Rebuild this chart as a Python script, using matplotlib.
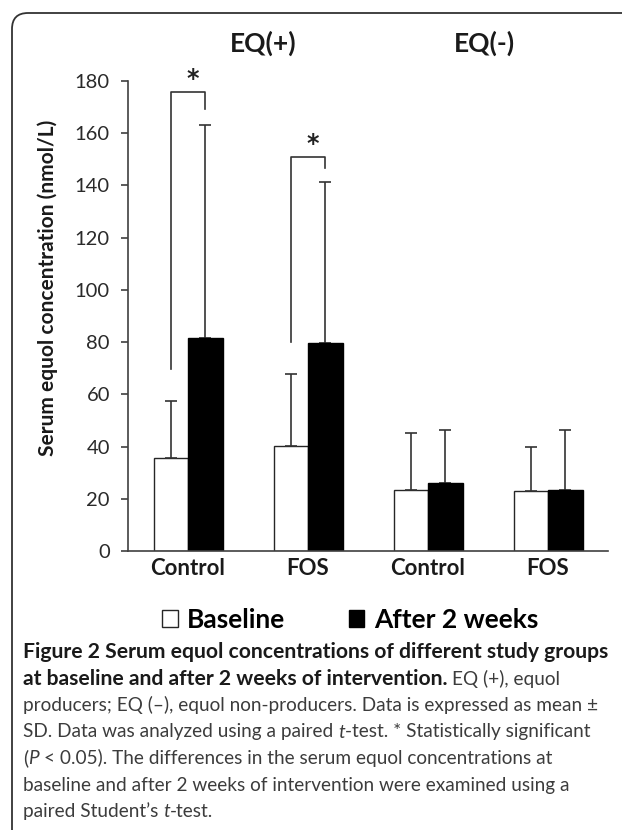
import numpy as np
import matplotlib
matplotlib.use("Agg")
import matplotlib.pyplot as plt
from matplotlib.patches import FancyBboxPatch
from matplotlib.transforms import IdentityTransform, blended_transform_factory

# ---------- Data ----------
groups = ["Control", "FOS", "Control", "FOS"]
producer_labels = ["EQ(+)", "EQ(-)"]
series = ["Baseline", "After 2 weeks"]
baseline_mean = [35.6, 40.2, 23.4, 23.0]
baseline_sd = [22.0, 27.6, 21.9, 17.0]
after_mean = [81.6, 79.8, 26.2, 23.4]
after_sd = [81.6, 61.6, 20.2, 23.0]

# significance brackets (paired t-test, P < 0.05)
sig_groups = [0, 1]
sig_top = [175.9, 151.0]
sig_left_low = [69.7, 80.0]
sig_right_low = [169.3, 146.7]

FONT = "Lato"
W, H = 622, 830

# ---------- Figure ----------
fig = plt.figure(figsize=(W / 100, H / 100), dpi=100)

# rounded frame round the figure panel (open to right / bottom)
frame = FancyBboxPatch((12, -200), 900, H - 13 + 200,
                       boxstyle="round,pad=0,rounding_size=16",
                       transform=IdentityTransform(), facecolor="none",
                       edgecolor="#333333", linewidth=1.3)
fig.add_artist(frame)

ax = fig.add_axes([128 / W, 1 - 551 / H, 480 / W, 470 / H])
x = np.arange(len(groups))
w = 0.2875

ax.bar(x - w / 2, baseline_mean, w, color="white", edgecolor="#262626",
       linewidth=1.0, label=series[0], zorder=2)
ax.bar(x + w / 2, after_mean, w, color="black", edgecolor="black",
       linewidth=1.0, label=series[1], zorder=2)

zeros = np.zeros(len(groups))
ax.errorbar(x - w / 2, baseline_mean, yerr=[zeros, baseline_sd], fmt="none",
            ecolor="#333333", elinewidth=1.2, capsize=4, capthick=1.2, zorder=3)
ax.errorbar(x + w / 2, after_mean, yerr=[zeros, after_sd], fmt="none",
            ecolor="#333333", elinewidth=1.2, capsize=4, capthick=1.2, zorder=1)

# brackets + stars
for g, top, lo_l, lo_r in zip(sig_groups, sig_top, sig_left_low, sig_right_low):
    xl, xr = g - w / 2, g + w / 2
    ax.plot([xl, xl, xr, xr], [lo_l, top, top, lo_r], color="#333333",
            lw=1.2, clip_on=False, zorder=4)
    ax.text(g + 0.04, top + 5, "*", ha="center", va="center", fontsize=17,
            fontweight="bold", family="DejaVu Sans", color="#222222",
            clip_on=False)

# EQ(+) / EQ(-) headers
hdr = blended_transform_factory(ax.transData, fig.transFigure)
for xpos, lab in zip([0.625, 2.467], producer_labels):
    ax.text(xpos, 1 - 43 / H, lab, transform=hdr, ha="center", va="center",
            fontsize=19, fontweight="bold", family=FONT, color="#1a1a1a")

ax.set_xlim(-0.5, 3.5)
ax.set_ylim(0, 180)
ax.set_yticks(np.arange(0, 181, 20))
ax.set_xticks(x)
ax.set_xticklabels(groups, fontsize=16, fontweight="bold", family=FONT,
                   color="#1a1a1a")
for lab in ax.get_yticklabels():
    lab.set_family(FONT)
    lab.set_fontsize(14.5)
    lab.set_color("#2a2a2a")
ax.tick_params(axis="x", length=0, pad=5)
ax.tick_params(axis="y", length=5, width=1.2, pad=8, color="#404040")
for s in ["top", "right"]:
    ax.spines[s].set_visible(False)
for s in ["left", "bottom"]:
    ax.spines[s].set_color("#404040")
    ax.spines[s].set_linewidth(1.2)

fig.text(48 / W, 1 - 288 / H, "Serum equol concentration (nmol/L)",
         rotation=90, ha="center", va="center", fontsize=15,
         fontweight="bold", family=FONT, color="#1a1a1a")

# legend
handles, labels = ax.get_legend_handles_labels()
fig.legend(handles, labels, loc="center", bbox_to_anchor=(350 / W, 1 - 620 / H),
           ncol=2, frameon=False, handlelength=0.6, handleheight=0.6,
           handletextpad=0.35, columnspacing=2.4,
           prop={"family": FONT, "weight": "bold", "size": 19})

# ---------- Caption ----------
styles = {
    "b": dict(family=FONT, fontweight="bold", fontsize=15.2, color="#1a1a1a"),
    "n": dict(family=FONT, fontweight="normal", fontsize=13.7, color="#3c3c3c"),
    "i": dict(family=FONT, fontweight="normal", style="italic", fontsize=13.7,
              color="#3c3c3c"),
}
caption = [
    [("Figure 2 Serum equol concentrations of different study groups", "b")],
    [("at baseline and after 2 weeks of intervention.", "b"), (" EQ (+), equol", "n")],
    [("producers; EQ (\u2013), equol non-producers. Data is expressed as mean \u00b1", "n")],
    [("SD. Data was analyzed using a paired ", "n"), ("t", "i"),
     ("-test. * Statistically significant", "n")],
    [("(", "n"), ("P", "i"), (" < 0.05). The differences in the serum equol concentrations at", "n")],
    [("baseline and after 2 weeks of intervention were examined using a", "n")],
    [("paired Student\u2019s ", "n"), ("t", "i"), ("-test.", "n")],
]

renderer = fig.canvas.get_renderer()


def text_width(s, st):
    t = fig.text(0, 0, s, **styles[st])
    wpx = t.get_window_extent(renderer).width
    t.remove()
    return wpx


space_w = {k: text_width("x x", k) - text_width("xx", k) for k in styles}

y_base = 658
for i, line in enumerate(caption):
    xpx = 23
    ypx = y_base + i * 26.5
    for seg, st in line:
        lead = len(seg) - len(seg.lstrip(" "))
        trail = len(seg) - len(seg.rstrip(" "))
        core = seg.strip(" ")
        xpx += lead * space_w[st]
        t = fig.text(xpx / W, 1 - ypx / H, core, ha="left", va="baseline",
                     **styles[st])
        xpx += t.get_window_extent(renderer).width + trail * space_w[st]

fig.savefig("out.png", dpi=100)
